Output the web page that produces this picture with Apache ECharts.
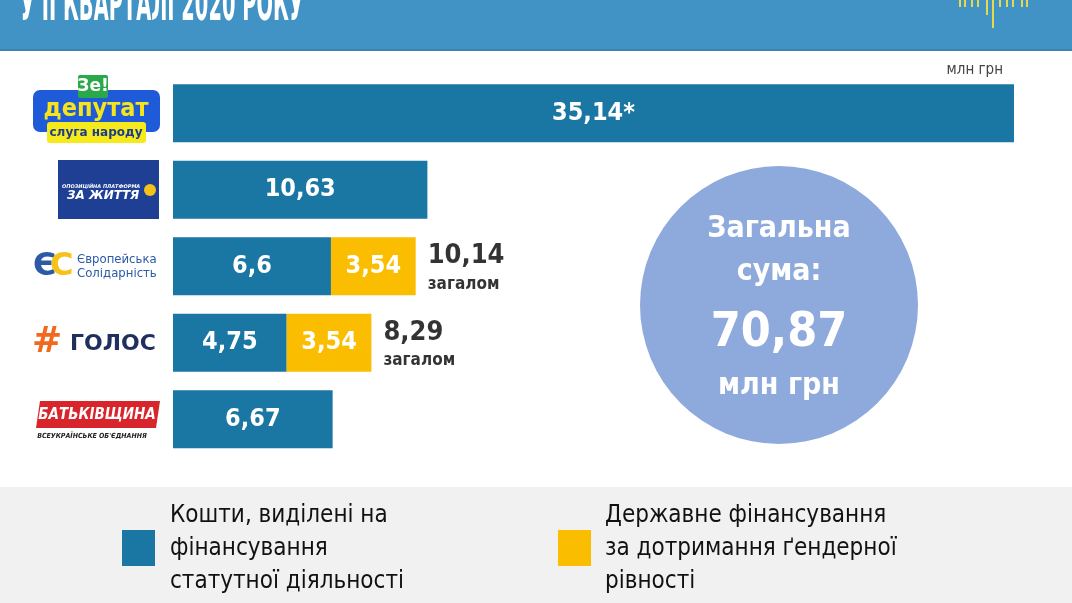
<!DOCTYPE html>
<html><head><meta charset="utf-8">
<script src="https://cdn.jsdelivr.net/npm/echarts@6/dist/echarts.min.js"></script>
<style>html,body{margin:0;padding:0;background:#fff}#c{width:1072px;height:603px}</style>
</head><body><div id="c"></div>
<script>
const parties = ['Слуга народу', 'Опозиційна платформа – За життя', 'Європейська Солідарність', 'Голос', 'Батьківщина'];
const statutory = [35.14, 10.63, 6.6, 4.75, 6.67];
const gender = [null, null, 3.54, 3.54, null];
const totals = [null, null, 10.14, 8.29, null];
const grandTotal = 70.87;
const unit = 'млн грн';
const legendNames = ['Кошти, виділені на\nфінансування\nстатутної діяльності', 'Державне фінансування\nза дотримання ґендерної\nрівності'];

const F = '"DejaVu Sans Condensed", "DejaVu Sans", sans-serif';
const BLUE = '#1a76a3', YELLOW = '#fbbd00';
const fmt = v => String(v).replace('.', ',');

const chart = echarts.init(document.getElementById('c'));
const logoLines = [[960,7],[965,7],[972,7],[978,7],[987,15],[993,28],[1000,7],[1007,7],[1013,7],[1022,7],[1027,7]];
const graphics = [
  {type:'rect', shape:{x:0,y:0,width:1072,height:50}, style:{fill:'#4192c5'}},
  {type:'rect', shape:{x:0,y:49,width:1072,height:2}, style:{fill:'#3a84b4'}},
  {type:'text', x:20, y:8, scaleX:0.45, style:{text:'У ІІ КВАРТАЛІ 2020 РОКУ', fill:'#fff', font:'bold 48px '+F, verticalAlign:'middle'}},
  ...logoLines.map(l => ({type:'line', shape:{x1:l[0],y1:0,x2:l[0],y2:l[1]}, style:{stroke:'#e6d94c', lineWidth:2}})),
  {type:'text', x:1003, y:70, style:{text:unit, fill:'#444', font:'15px '+F, align:'right', verticalAlign:'middle'}},
  // circle
  {type:'circle', shape:{cx:779, cy:305, r:139}, style:{fill:'#8eaadc'}},
  {type:'text', x:779, y:229, style:{text:'Загальна', fill:'#fff', font:'bold 30px '+F, align:'center', verticalAlign:'middle'}},
  {type:'text', x:779, y:272, style:{text:'сума:', fill:'#fff', font:'bold 30px '+F, align:'center', verticalAlign:'middle'}},
  {type:'text', x:779, y:334, style:{text:fmt(grandTotal), fill:'#fff', font:'bold 48px '+F, align:'center', verticalAlign:'middle'}},
  {type:'text', x:779, y:386, style:{text:unit, fill:'#fff', font:'bold 30px '+F, align:'center', verticalAlign:'middle'}},
  // legend band
  {type:'rect', shape:{x:0,y:487,width:1072,height:116}, style:{fill:'#f1f1f1'}},
  {type:'rect', shape:{x:122,y:530,width:33,height:36}, style:{fill:BLUE}},
  {type:'text', x:170, y:549, style:{text:legendNames[0], fill:'#111', font:'24px '+F, lineHeight:33, verticalAlign:'middle'}},
  {type:'rect', shape:{x:558,y:530,width:33,height:36}, style:{fill:YELLOW}},
  {type:'text', x:605, y:549, style:{text:legendNames[1], fill:'#111', font:'24px '+F, lineHeight:33, verticalAlign:'middle'}},
  // logo 1: Зе! депутат
  {type:'rect', shape:{x:33,y:90,width:127,height:42,r:7}, style:{fill:'#1f5ad8'}},
  {type:'rect', shape:{x:78,y:75,width:30,height:23,r:2}, style:{fill:'#2ba84a'}},
  {type:'text', x:93, y:87, style:{text:'Зе!', fill:'#fff', font:'bold 17px "DejaVu Sans", sans-serif', align:'center', verticalAlign:'middle'}},
  {type:'text', x:96, y:109, style:{text:'депутат', fill:'#f5e51a', font:'bold 25px '+F, align:'center', verticalAlign:'middle'}},
  {type:'rect', shape:{x:47,y:122,width:99,height:21,r:3}, style:{fill:'#f7ea1c'}},
  {type:'text', x:96, y:133, style:{text:'слуга народу', fill:'#1b3c8c', font:'bold 12px "DejaVu Sans", sans-serif', align:'center', verticalAlign:'middle'}},
  // logo 2: ОПЗЖ
  {type:'rect', shape:{x:58,y:160,width:101,height:59}, style:{fill:'#1e3f94'}},
  {type:'text', x:62, y:187, style:{text:'ОПОЗИЦІЙНА ПЛАТФОРМА', fill:'#fff', font:'italic bold 5px "DejaVu Sans", sans-serif', verticalAlign:'middle'}},
  {type:'text', x:67, y:196, style:{text:'ЗА ЖИТТЯ', fill:'#fff', font:'italic bold 12px "DejaVu Sans", sans-serif', verticalAlign:'middle'}},
  {type:'circle', shape:{cx:150,cy:190,r:6}, style:{fill:'#f2c21b'}},
  // logo 3: ЄС
  {type:'text', x:33, y:267, style:{text:'Є', fill:'#2c5aa6', font:'bold 32px "DejaVu Sans", sans-serif', verticalAlign:'middle'}},
  {type:'text', x:50, y:267, style:{text:'С', fill:'#f5c21a', font:'bold 32px "DejaVu Sans", sans-serif', verticalAlign:'middle'}},
  {type:'text', x:77, y:260, style:{text:'Європейська', fill:'#2c5aa6', font:'13px '+F, verticalAlign:'middle'}},
  {type:'text', x:77, y:274, style:{text:'Солідарність', fill:'#2c5aa6', font:'13px '+F, verticalAlign:'middle'}},
  // logo 4: ГОЛОС
  {type:'text', x:47, y:343, style:{text:'#', fill:'#f0691f', font:'bold 36px "DejaVu Sans", sans-serif', align:'center', verticalAlign:'middle'}},
  {type:'text', x:70, y:344, style:{text:'ГОЛОС', fill:'#1f2f5e', font:'bold 22px "DejaVu Sans", sans-serif', verticalAlign:'middle'}},
  // logo 5: Батьківщина
  {type:'polygon', shape:{points:[[40,401],[160,401],[156,428],[36,428]]}, style:{fill:'#d8242b'}},
  {type:'text', x:97, y:415, style:{text:'БАТЬКІВЩИНА', fill:'#fff', font:'italic bold 15px '+F, align:'center', verticalAlign:'middle'}},
  {type:'text', x:92, y:436, style:{text:'ВСЕУКРАЇНСЬКЕ ОБ\'ЄДНАННЯ', fill:'#222', font:'italic bold 7px '+F, align:'center', verticalAlign:'middle'}}
];

chart.setOption({
  animation: false,
  grid: {left:173, right:58, top:75, height:382.5},
  xAxis: {type:'value', min:0, max:35.14, show:false},
  yAxis: {type:'category', data:parties, inverse:true, show:false},
  graphic: graphics,
  series: [
    {name:legendNames[0], type:'bar', stack:'a', barWidth:58, data:statutory, itemStyle:{color:BLUE},
     label:{show:true, position:'inside', color:'#fff', fontFamily:F, fontWeight:'bold', fontSize:25,
       formatter:p => fmt(p.value) + (p.dataIndex === 0 ? '*' : '')}},
    {name:legendNames[1], type:'bar', stack:'a', barWidth:58, data:gender, itemStyle:{color:YELLOW},
     label:{show:true, position:'inside', color:'#fff', fontFamily:F, fontWeight:'bold', fontSize:25,
       formatter:p => fmt(p.value)}},
    {type:'scatter', symbolSize:0, data:totals.map((v,i) => v == null ? null : [v, parties[i]]).filter(Boolean),
     label:{show:true, position:'right', distance:12, offset:[0,3], color:'#000',
       formatter:p => '{a|' + fmt(p.value[0]) + '}\n{b|загалом}',
       rich:{a:{fontFamily:F, fontWeight:'bold', fontSize:27, color:'#000', lineHeight:30},
             b:{fontFamily:F, fontWeight:'bold', fontSize:17, color:'#000', lineHeight:26}}}}
  ]
});
</script></body></html>
